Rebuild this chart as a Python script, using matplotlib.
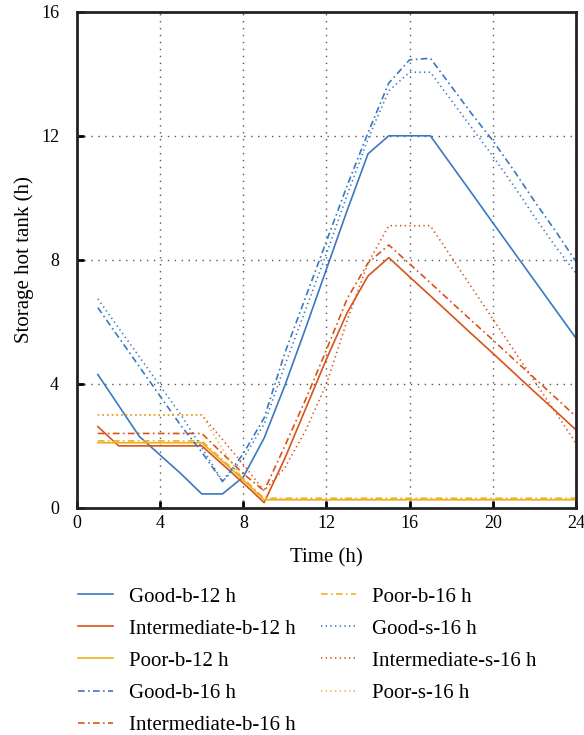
import matplotlib
matplotlib.use("Agg")
import matplotlib.pyplot as plt
import numpy as np

plt.rcParams['font.family'] = ['Liberation Serif', 'DejaVu Serif']

hours = list(range(1, 25))

good_b_12 = [4.3, 3.3, 2.3, 1.7, 1.1, 0.45, 0.45, 1.0, 2.25, 3.95, 5.8, 7.7,
             9.6, 11.42, 12.0, 12.0, 12.0, 11.07, 10.14, 9.2, 8.27, 7.34, 6.41, 5.48]
int_b_12 = [2.62, 2.0, 2.0, 2.0, 2.0, 2.0, 1.4, 0.8, 0.17, 1.6, 3.2, 4.8,
            6.3, 7.48, 8.07, 7.45, 6.84, 6.22, 5.6, 4.99, 4.37, 3.75, 3.14, 2.52]
poor_b_12 = [2.1, 2.1, 2.1, 2.1, 2.1, 2.1, 1.5, 0.9, 0.26, 0.26, 0.26, 0.26,
             0.26, 0.26, 0.26, 0.26, 0.26, 0.26, 0.26, 0.26, 0.26, 0.26, 0.26, 0.26]
good_b_16 = [6.46, 5.5, 4.55, 3.6, 2.65, 1.8, 0.85, 1.75, 2.9, 5.0, 6.8, 8.6,
             10.4, 12.1, 13.7, 14.45, 14.5, 13.6, 12.7, 11.85, 10.9, 9.9, 8.95, 7.95]
int_b_16 = [2.4, 2.4, 2.4, 2.4, 2.4, 2.4, 1.75, 1.1, 0.55, 2.0, 3.5, 5.1,
            6.75, 7.9, 8.48, 7.87, 7.26, 6.64, 6.03, 5.42, 4.8, 4.19, 3.57, 2.95]
poor_b_16 = [2.16, 2.16, 2.16, 2.16, 2.16, 2.16, 1.55, 0.95, 0.31, 0.31, 0.31, 0.31,
             0.31, 0.31, 0.31, 0.31, 0.31, 0.31, 0.31, 0.31, 0.31, 0.31, 0.31, 0.31]
good_s_16 = [6.74, 5.8, 4.87, 3.93, 3.0, 1.95, 0.85, 1.6, 2.7, 4.6, 6.4, 8.2,
             10.1, 11.9, 13.45, 14.05, 14.05, 13.15, 12.25, 11.35, 10.4, 9.4, 8.45, 7.57]
int_s_16 = [3.0, 3.0, 3.0, 3.0, 3.0, 3.0, 2.2, 1.4, 0.55, 1.3, 2.5, 4.0,
            6.05, 7.9, 9.1, 9.1, 9.1, 8.1, 7.1, 6.1, 5.1, 4.1, 3.1, 2.09]
poor_s_16 = [3.0, 3.0, 3.0, 3.0, 3.0, 3.0, 1.9, 0.9, 0.28, 0.28, 0.28, 0.28,
             0.28, 0.28, 0.28, 0.28, 0.28, 0.28, 0.28, 0.28, 0.28, 0.28, 0.28, 0.28]

blue = '#3a78c2'
orange = '#d95319'
yellow = '#edb120'
dashdot = (0, (4, 2, 1, 2))
dotted = (0, (0.8, 2))

series = [
    ('Good-b-12 h', good_b_12, blue, '-'),
    ('Intermediate-b-12 h', int_b_12, orange, '-'),
    ('Poor-b-12 h', poor_b_12, yellow, '-'),
    ('Good-b-16 h', good_b_16, blue, dashdot),
    ('Intermediate-b-16 h', int_b_16, orange, dashdot),
    ('Poor-b-16 h', poor_b_16, yellow, dashdot),
    ('Good-s-16 h', good_s_16, blue, dotted),
    ('Intermediate-s-16 h', int_s_16, orange, dotted),
    ('Poor-s-16 h', poor_s_16, yellow, dotted),
]

fig = plt.figure(figsize=(5.84, 7.35), dpi=100)
ax = fig.add_axes([0.132, 0.309, 0.854, 0.675])

for label, vals, col, ls in series:
    ax.plot(hours, vals, color=col, linestyle=ls, linewidth=1.2, label=label)

ax.set_xlim(0, 24)
ax.set_ylim(0, 16)
ax.set_xticks(np.arange(0, 25, 4))
ax.set_yticks(np.arange(0, 17, 4))
ax.grid(True, color='#555555', linestyle=(0, (1, 4)), linewidth=1.0)
ax.tick_params(direction='in', length=5, width=2, labelsize=13)
ax.tick_params(axis='y', pad=13)
ax.tick_params(axis='x', pad=5)
for s in ax.spines.values():
    s.set_linewidth(2)
    s.set_color('#222222')

ax.set_xlabel('Time (h)', fontsize=15, labelpad=12)
ax.set_ylabel('Storage hot tank (h)', fontsize=15, labelpad=5)

fig.legend(loc='upper left', bbox_to_anchor=(0.1336, 0.2014), ncol=2,
           frameon=False, fontsize=15, handlelength=1.7, handletextpad=0.75,
           columnspacing=1.2, labelspacing=0.6, borderaxespad=0, borderpad=0)

fig.savefig('out.png', dpi=100)
